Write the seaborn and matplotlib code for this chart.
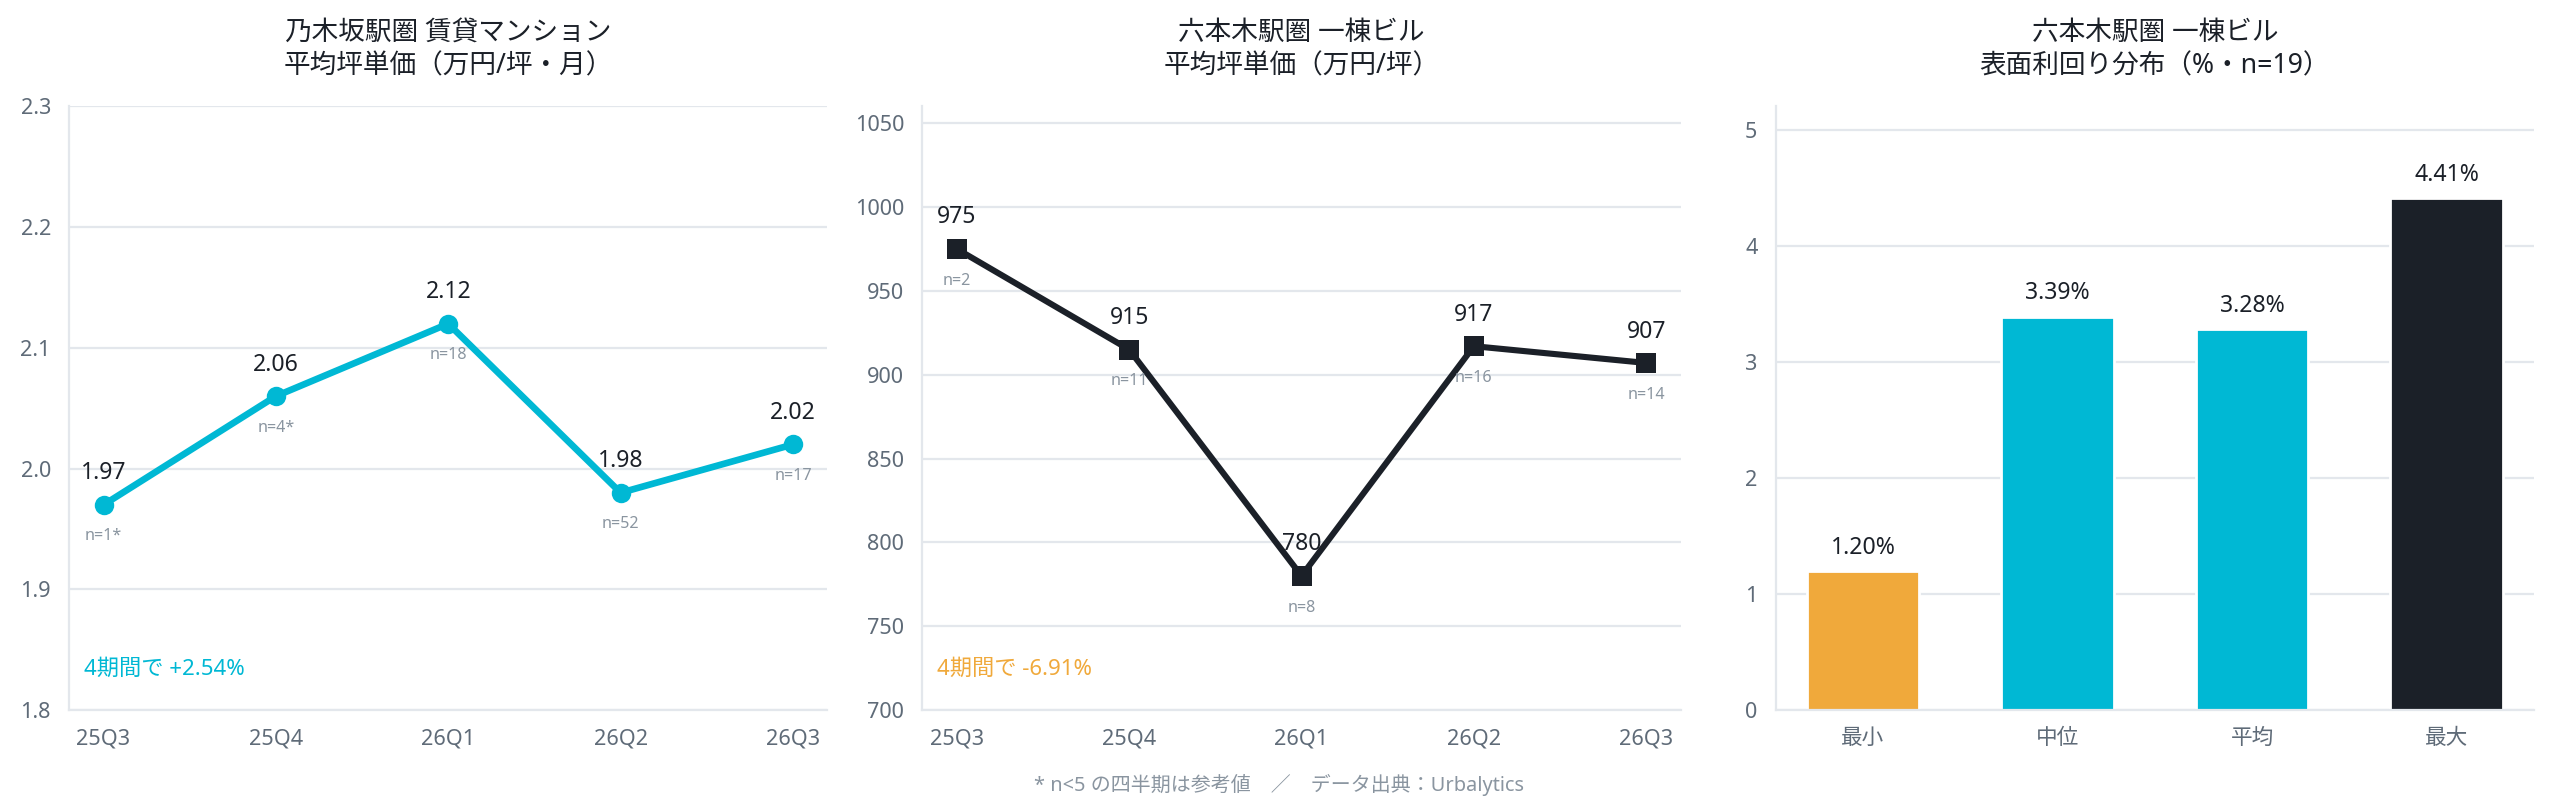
import matplotlib
matplotlib.use("Agg")
import matplotlib.pyplot as plt
import seaborn as sns
import pandas as pd

# Data
QUARTERS = ["25Q3", "25Q4", "26Q1", "26Q2", "26Q3"]
NOGI_PRICE = [1.97, 2.06, 2.12, 1.98, 2.02]
NOGI_N = ["n=1*", "n=4*", "n=18", "n=52", "n=17"]
ROPP_PRICE = [975, 915, 780, 917, 907]
ROPP_N = ["n=2", "n=11", "n=8", "n=16", "n=14"]
YIELD_LABELS = ["最小", "中位", "平均", "最大"]
YIELD_VALUES = [1.20, 3.39, 3.28, 4.41]

NOGI_CHANGE = "4期間で +2.54%"
ROPP_CHANGE = "4期間で -6.91%"
FOOTER = "* n<5 の四半期は参考値　／　データ出典：Urbalytics"

CYAN = "#00b8d4"
DARK = "#1b2028"
ORANGE = "#f0a93b"
GRID = "#e3e7ec"
TICK = "#5f6b78"
NCOL = "#8a95a0"

sns.set_theme(style="white")
plt.rcParams['font.family'] = ['Noto Sans', 'Noto Sans CJK JP', 'DejaVu Sans']


def style_axes(ax):
    sns.despine(ax=ax)
    for s in ("left", "bottom"):
        ax.spines[s].set_color(GRID)
        ax.spines[s].set_linewidth(0.8)
    ax.grid(axis="y", color=GRID, linewidth=0.8)
    ax.set_axisbelow(True)
    ax.tick_params(axis="both", colors=TICK, labelsize=7.8, length=3, width=0.8,
                   color="#9aa3ad")
    ax.set_xlabel("")
    ax.set_ylabel("")


def line_panel(ax, values, ns, color, marker, msize, lw, title, change, change_color, fmt):
    df = pd.DataFrame({"q": QUARTERS, "v": values})
    sns.lineplot(data=df, x="q", y="v", ax=ax, color=color, linewidth=lw,
                 marker=marker, markersize=msize, markeredgewidth=0, sort=False)
    for i, (v, n) in enumerate(zip(values, ns)):
        ax.annotate(fmt.format(v), (i, v), xytext=(0, 7), textcoords="offset points",
                    ha="center", va="bottom", fontsize=8.3, color=DARK)
        ax.annotate(n, (i, v), xytext=(0, -8.5), textcoords="offset points",
                    ha="center", va="top", fontsize=5.8, color=NCOL)
    ax.set_xlim(-0.2, 4.2)
    ax.set_title(title, fontsize=9.6, color=DARK, pad=12, linespacing=1.25)
    ax.text(0.02, 0.05, change, transform=ax.transAxes, fontsize=8,
            color=change_color, ha="left", va="bottom")
    style_axes(ax)


fig, axes = plt.subplots(1, 3, figsize=(12.785, 4.03), dpi=200)
fig.subplots_adjust(left=0.027, right=0.991, bottom=0.119, top=0.868, wspace=0.125)

ax1 = axes[0]
line_panel(ax1, NOGI_PRICE, NOGI_N, CYAN, "o", 7, 2.4,
           "乃木坂駅圏 賃貸マンション\n平均坪単価（万円/坪・月）",
           NOGI_CHANGE, CYAN, "{:.2f}")
ax1.set_ylim(1.8, 2.3)
ax1.set_yticks([1.8, 1.9, 2.0, 2.1, 2.2, 2.3])
ax1.set_yticklabels(["1.8", "1.9", "2.0", "2.1", "2.2", "2.3"])

ax2 = axes[1]
line_panel(ax2, ROPP_PRICE, ROPP_N, DARK, "s", 7.5, 2.2,
           "六本木駅圏 一棟ビル\n平均坪単価（万円/坪）",
           ROPP_CHANGE, ORANGE, "{:.0f}")
ax2.set_ylim(700, 1060)
ax2.set_yticks(range(700, 1051, 50))

ax3 = axes[2]
ydf = pd.DataFrame({"k": YIELD_LABELS, "v": YIELD_VALUES})
sns.barplot(data=ydf, x="k", y="v", hue="k", ax=ax3, legend=False, width=0.58,
            palette=[ORANGE, CYAN, CYAN, DARK], saturation=1)
for cont in ax3.containers:
    ax3.bar_label(cont, labels=[f"{c.get_height():.2f}%" for c in cont],
                  padding=4, fontsize=8.3, color=DARK)
ax3.set_ylim(0, 5.2)
ax3.set_yticks(range(0, 6))
ax3.set_xlim(-0.45, 3.45)
ax3.set_title("六本木駅圏 一棟ビル\n表面利回り分布（%・n=19）", fontsize=9.6,
              color=DARK, pad=12, linespacing=1.25)
style_axes(ax3)

fig.text(0.5, 0.026, FOOTER, ha="center", va="center", fontsize=7.2, color=NCOL)

fig.savefig("out.png", dpi=200, facecolor="white")
